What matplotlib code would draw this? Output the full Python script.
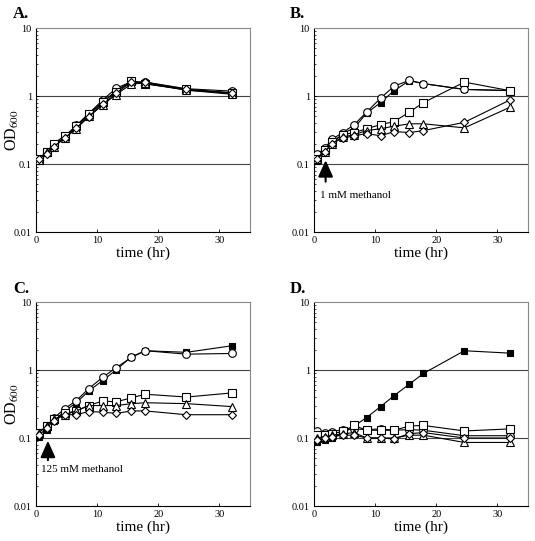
import numpy as np
import matplotlib.pyplot as plt
from matplotlib.ticker import FixedLocator, FixedFormatter, LogLocator, NullFormatter

plt.rcParams['font.family'] = ['Liberation Serif', 'DejaVu Serif']
plt.rcParams['mathtext.fontset'] = 'stix'

# sampling times (hr)
t = [0.5, 1.75, 2.9, 4.7, 6.6, 8.6, 10.9, 13.1, 15.6, 17.9, 24.6, 32.0]

# Panel A
a_fsq = [0.12, 0.15, 0.18, 0.25, 0.35, 0.52, 0.80, 1.20, 1.62, 1.52, 1.22, 1.10]
a_circ = [0.12, 0.15, 0.19, 0.25, 0.37, 0.55, 0.87, 1.30, 1.62, 1.60, 1.28, 1.18]
a_sq = [0.12, 0.15, 0.20, 0.26, 0.36, 0.54, 0.82, 1.15, 1.68, 1.50, 1.25, 1.12]
a_tri = [0.115, 0.15, 0.18, 0.24, 0.33, 0.50, 0.74, 1.05, 1.50, 1.55, 1.22, 1.06]
a_dia = [0.12, 0.14, 0.18, 0.24, 0.34, 0.49, 0.75, 1.10, 1.60, 1.60, 1.25, 1.10]

# Panel B (1 mM methanol)
b_fsq = [0.11, 0.15, 0.20, 0.28, 0.34, 0.56, 0.80, 1.20, 1.68, 1.52, 1.25, 1.20]
b_circ = [0.14, 0.17, 0.23, 0.29, 0.38, 0.58, 0.93, 1.40, 1.70, 1.52, 1.25, 1.20]
b_sq = [0.12, 0.16, 0.21, 0.27, 0.29, 0.33, 0.38, 0.42, 0.58, 0.80, 1.60, 1.20]
b_tri = [0.12, 0.15, 0.20, 0.25, 0.27, 0.31, 0.33, 0.36, 0.39, 0.39, 0.34, 0.68]
b_dia = [0.12, 0.15, 0.20, 0.24, 0.26, 0.28, 0.26, 0.30, 0.29, 0.31, 0.41, 0.87]

# Panel C (125 mM methanol)
c_fsq = [0.102, 0.13, 0.18, 0.25, 0.33, 0.49, 0.70, 1.00, 1.57, 1.92, 1.82, 2.27]
c_circ = [0.118, 0.148, 0.196, 0.27, 0.355, 0.53, 0.78, 1.08, 1.53, 1.92, 1.71, 1.75]
c_sq = [0.12, 0.15, 0.19, 0.23, 0.25, 0.30, 0.35, 0.34, 0.39, 0.44, 0.40, 0.46]
c_tri = [0.12, 0.15, 0.19, 0.22, 0.25, 0.30, 0.30, 0.30, 0.32, 0.33, 0.32, 0.29]
c_dia = [0.11, 0.14, 0.18, 0.22, 0.22, 0.245, 0.24, 0.23, 0.25, 0.25, 0.22, 0.22]

# Panel D
d_fsq = [0.087, 0.094, 0.10, 0.116, 0.15, 0.20, 0.29, 0.42, 0.62, 0.89, 1.92, 1.77]
d_circ = [0.125, 0.12, 0.124, 0.133, 0.136, 0.133, 0.136, 0.13, 0.133, 0.13, 0.108, 0.108]
d_sq = [0.11, 0.11, 0.115, 0.125, 0.153, 0.13, 0.13, 0.13, 0.15, 0.153, 0.127, 0.136]
d_tri = [0.10, 0.105, 0.11, 0.115, 0.12, 0.10, 0.10, 0.10, 0.11, 0.11, 0.086, 0.086]
d_dia = [0.095, 0.10, 0.105, 0.11, 0.11, 0.10, 0.10, 0.097, 0.116, 0.12, 0.10, 0.10]

panels = {
    'A.': [a_fsq, a_circ, a_sq, a_tri, a_dia],
    'B.': [b_fsq, b_circ, b_sq, b_tri, b_dia],
    'C.': [c_fsq, c_circ, c_sq, c_tri, c_dia],
    'D.': [d_fsq, d_circ, d_sq, d_tri, d_dia],
}
styles = [('s', 'black'), ('o', 'white'), ('s', 'white'), ('^', 'white'), ('D', 'white')]
msizes = [5, 5.5, 5.5, 5.5, 4.5]

# axes placement (pixels from top-left)
W, H = 535, 541
boxes = {
    'A.': (36, 28), 'B.': (314, 28),
    'C.': (36, 302), 'D.': (314, 302),
}
aw, ah = 214, 204

fig = plt.figure(figsize=(5.35, 5.41), dpi=100)

for name, series in panels.items():
    x0, y0 = boxes[name]
    ax = fig.add_axes([x0 / W, (H - y0 - ah) / H, aw / W, ah / H])
    ax.set_yscale('log')
    ax.set_xlim(0, 35)
    ax.set_ylim(0.01, 10)
    for yv in [0.1, 1]:
        ax.axhline(yv, color='#444444', lw=0.8, zorder=1)
    for vals, (m, fc), ms in zip(series, styles, msizes):
        ax.plot(t, vals, color='black', lw=0.8, marker=m, mfc=fc, mec='black',
                mew=0.8, ms=ms, zorder=3)
    ax.xaxis.set_major_locator(FixedLocator([0, 10, 20, 30]))
    ax.yaxis.set_major_locator(FixedLocator([0.01, 0.1, 1, 10]))
    ax.yaxis.set_major_formatter(FixedFormatter(['0.01', '0.1', '1', '10']))
    ax.yaxis.set_minor_locator(LogLocator(base=10, subs=np.arange(2, 10)))
    ax.yaxis.set_minor_formatter(NullFormatter())
    ax.tick_params(axis='both', which='major', labelsize=7.5, length=2.5,
                   width=0.6, direction='in', pad=3)
    ax.tick_params(axis='y', which='minor', length=1.5, width=0.5, direction='in')
    for s in ['top', 'right']:
        ax.spines[s].set_color('#888888')
        ax.spines[s].set_linewidth(0.8)
    for s in ['left', 'bottom']:
        ax.spines[s].set_linewidth(0.8)
    ax.set_xlabel('time (hr)', fontsize=11, labelpad=1)
    if name in ('A.', 'C.'):
        ax.set_ylabel(r'OD$_{600}$', fontsize=11.5)
        ax.yaxis.set_label_coords(-0.07, 0.5)
    lx = -0.107 if name in ('A.', 'C.') else -0.115
    ly = 1.05 if name in ('A.', 'B.') else 1.045
    ax.text(lx, ly, name, transform=ax.transAxes, fontsize=12,
            fontweight='bold', ha='left', va='baseline')
    if name == 'B.':
        ax.annotate('', xy=(1.9, 0.125), xytext=(1.9, 0.05),
                    arrowprops=dict(arrowstyle='-|>,head_length=1.0,head_width=0.45',
                                    color='black', lw=1.5))
        ax.text(1.0, 0.035, '1 mM methanol', fontsize=8, ha='left', va='center')
    if name == 'C.':
        ax.annotate('', xy=(1.95, 0.1), xytext=(1.95, 0.043),
                    arrowprops=dict(arrowstyle='-|>,head_length=1.0,head_width=0.45',
                                    color='black', lw=1.5))
        ax.text(0.8, 0.034, '125 mM methanol', fontsize=8, ha='left', va='center')

fig.savefig('out.png', dpi=100)
